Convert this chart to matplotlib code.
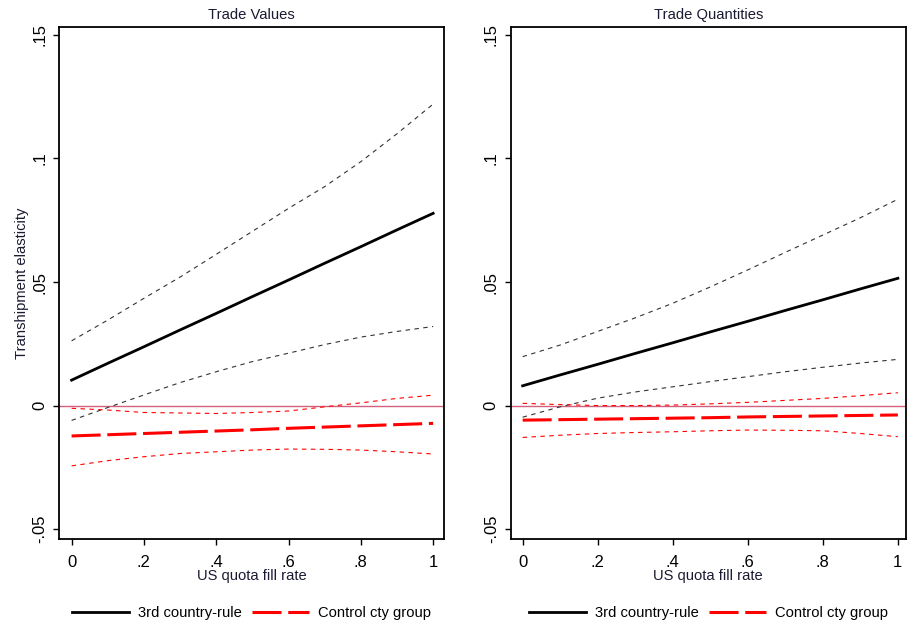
import matplotlib
matplotlib.use("Agg")
import matplotlib.pyplot as plt
from matplotlib.lines import Line2D

plt.rcParams['font.family'] = ['Liberation Sans', 'DejaVu Sans']

# US quota fill rate grid
fill_rate = [0.0, 0.1, 0.2, 0.3, 0.4, 0.5, 0.6, 0.7, 0.8, 0.9, 1.0]

# Trade Values panel
val_rule = [0.0103, 0.0171, 0.0238, 0.0306, 0.0373, 0.0441, 0.0508, 0.0576, 0.0643, 0.0711, 0.0778]
val_rule_hi = [0.0262, 0.0346, 0.0434, 0.0520, 0.0612, 0.0705, 0.0798, 0.0886, 0.0987, 0.1100, 0.1220]
val_rule_lo = [-0.0060, -0.0008, 0.0043, 0.0093, 0.0137, 0.0178, 0.0212, 0.0247, 0.0277, 0.0300, 0.0320]
val_ctrl = [-0.0123, -0.0118, -0.0113, -0.0108, -0.0103, -0.0098, -0.0092, -0.0087, -0.0082, -0.0077, -0.0072]
val_ctrl_hi = [-0.0011, -0.0018, -0.0028, -0.0030, -0.0032, -0.0028, -0.0022, -0.0005, 0.0011, 0.0029, 0.0042]
val_ctrl_lo = [-0.0244, -0.0223, -0.0207, -0.0194, -0.0187, -0.0180, -0.0176, -0.0177, -0.0180, -0.0187, -0.0196]

# Trade Quantities panel
qty_rule = [0.0080, 0.0124, 0.0167, 0.0211, 0.0254, 0.0298, 0.0341, 0.0385, 0.0428, 0.0472, 0.0515]
qty_rule_hi = [0.0198, 0.0245, 0.0300, 0.0355, 0.0414, 0.0480, 0.0549, 0.0620, 0.0690, 0.0760, 0.0835]
qty_rule_lo = [-0.0047, -0.0005, 0.0030, 0.0055, 0.0076, 0.0097, 0.0117, 0.0137, 0.0155, 0.0172, 0.0187]
qty_ctrl = [-0.0059, -0.0057, -0.0055, -0.0053, -0.0051, -0.0049, -0.0046, -0.0044, -0.0042, -0.0040, -0.0038]
qty_ctrl_hi = [0.0009, 0.0004, 0.0000, 0.0000, 0.0002, 0.0007, 0.0013, 0.0021, 0.0029, 0.0040, 0.0052]
qty_ctrl_lo = [-0.0129, -0.0120, -0.0113, -0.0109, -0.0106, -0.0102, -0.0099, -0.0100, -0.0102, -0.0113, -0.0126]

panels = [
    ("Trade Values", val_rule, val_rule_hi, val_rule_lo, val_ctrl, val_ctrl_hi, val_ctrl_lo),
    ("Trade Quantities", qty_rule, qty_rule_hi, qty_rule_lo, qty_ctrl, qty_ctrl_hi, qty_ctrl_lo),
]

xticks = [0, 0.2, 0.4, 0.6, 0.8, 1.0]
xticklabels = ["0", ".2", ".4", ".6", ".8", "1"]
yticks = [-0.05, 0, 0.05, 0.1, 0.15]
yticklabels = ["-.05", "0", ".05", ".1", ".15"]

fig = plt.figure(figsize=(9.07, 6.28), dpi=100)
ax_pos = [[0.065, 0.1417, 0.4245, 0.8153], [0.563, 0.1417, 0.436, 0.8153]]
xlims = [(-0.035, 1.03), (-0.032, 1.022)]

for i, (title, rule, rule_hi, rule_lo, ctrl, ctrl_hi, ctrl_lo) in enumerate(panels):
    ax = fig.add_axes(ax_pos[i])
    ax.axhline(0, color='#d2607c', lw=1.0, zorder=1)
    ax.plot(fill_rate, rule_hi, color='#333333', lw=0.8, dashes=(4, 4))
    ax.plot(fill_rate, rule_lo, color='#333333', lw=0.8, dashes=(4, 4))
    ax.plot(fill_rate, ctrl_hi, color='red', lw=0.8, dashes=(4, 4))
    ax.plot(fill_rate, ctrl_lo, color='red', lw=0.8, dashes=(4, 4))
    ax.plot(fill_rate, rule, color='black', lw=2.0)
    ax.plot(fill_rate, ctrl, color='red', lw=2.2, dashes=(9.5, 2.2))

    ax.set_xlim(*xlims[i])
    ax.set_ylim(-0.054, 0.1532)
    ax.set_xticks(xticks)
    ax.set_xticklabels(xticklabels)
    ax.set_yticks(yticks)
    ax.set_yticklabels(yticklabels, rotation=90, va='center')
    ax.tick_params(labelsize=12, length=4.5, width=1, pad=4, colors='black')
    ax.tick_params(axis='x', pad=7)
    ax.set_title(title, fontsize=10.6, pad=6, color='#1a1a33')
    ax.set_xlabel("US quota fill rate", fontsize=10.6, labelpad=-1, color='#1a1a33')
    if i == 0:
        ax.set_ylabel("Transhipment elasticity", fontsize=10.6, labelpad=2, color='#1a1a33')
    for sp in ax.spines.values():
        sp.set_linewidth(1.3)

    handles = [Line2D([], [], color='black', lw=2.0),
               Line2D([], [], color='red', lw=2.2, dashes=(9.5, 2.2))]
    ax.legend(handles, ["3rd country-rule", "Control cty group"], loc='center',
              bbox_to_anchor=(0.5, -0.145), ncol=2, frameon=False, fontsize=10.6,
              handlelength=3.9, handletextpad=0.6, columnspacing=0.7)

fig.savefig("out.png", dpi=100)
